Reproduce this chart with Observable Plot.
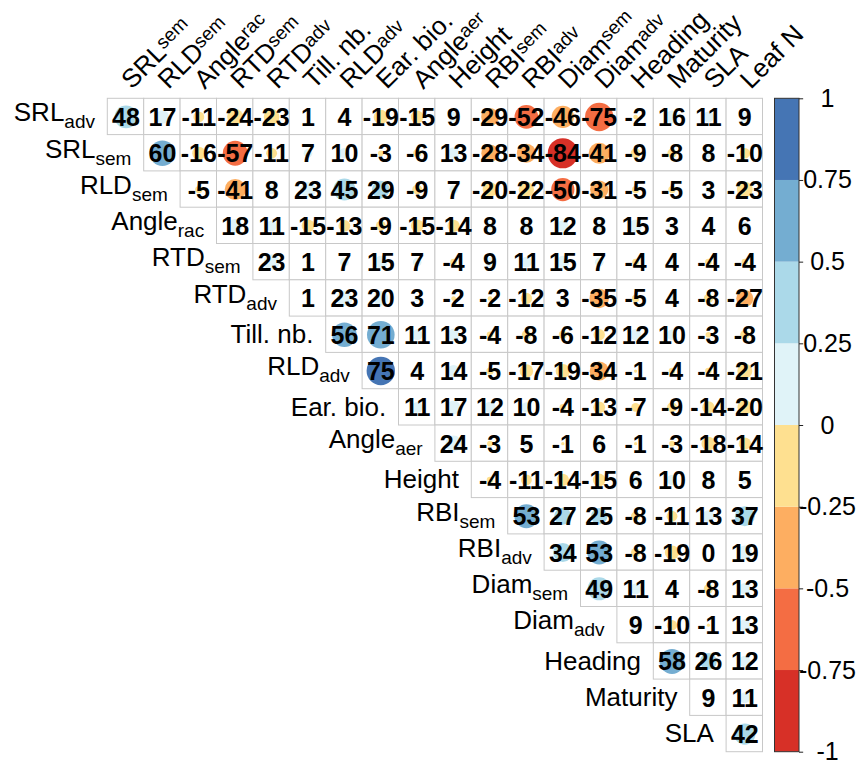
<!DOCTYPE html>
<html><head><meta charset="utf-8">
<script src="https://cdn.jsdelivr.net/npm/d3@7"></script>
<script src="https://cdn.jsdelivr.net/npm/@observablehq/plot@0.6"></script>
<style>
body{margin:0;background:#fff;}
#wrap{position:relative;width:861px;height:767px;font-family:"Liberation Sans",Arial,sans-serif;overflow:hidden;}
#wrap svg{position:absolute;top:0;overflow:visible;}
</style></head><body><div id="wrap"></div>
<script>
// Variables (underscore marks a subscript)
const variables = ["SRL_adv","SRL_sem","RLD_sem","Angle_rac","RTD_sem","RTD_adv","Till. nb.","RLD_adv","Ear. bio.","Angle_aer","Height","RBI_sem","RBI_adv","Diam_sem","Diam_adv","Heading","Maturity","SLA","Leaf N"];

// Correlations (x100), upper triangle, one array per row
const rSRLadv   = [48,17,-11,-24,-23,1,4,-19,-15,9,-29,-52,-46,-74.8,-2,16,11,9];
const rSRLsem   = [60,-16,-57,-11,7,10,-3,-6,13,-28,-34,-84,-41,-9,-8,8,-10];
const rRLDsem   = [-5,-41,8,23,45,29,-9,7,-20,-22,-50.2,-31,-5,-5,3,-23];
const rAnglerac = [18,11,-15,-13,-9,-15,-14,8,8,12,8,15,3,4,6];
const rRTDsem   = [23,1,7,15,7,-4,9,11,15,7,-4,4,-4,-4];
const rRTDadv   = [1,23,20,3,-2,-2,-12,3,-35,-5,4,-8,-27];
const rTillnb   = [56,71,11,13,-4,-8,-6,-12,12,10,-3,-8];
const rRLDadv   = [75,4,14,-5,-17,-19,-34,-1,-4,-4,-21];
const rEarbio   = [11,17,12,10,-4,-13,-7,-9,-14,-20];
const rAngleaer = [24,-3,5,-1,6,-1,-3,-18,-14];
const rHeight   = [-4,-11,-14,-15,6,10,8,5];
const rRBIsem   = [53,27,25,-8,-11,13,37];
const rRBIadv   = [34,53,-8,-19,0,19];
const rDiamsem  = [49,11,4,-8,13];
const rDiamadv  = [9,-10,-1,13];
const rHeading  = [58,26,12];
const rMaturity = [9,11];
const rSLA      = [42];

const corrRows = [rSRLadv,rSRLsem,rRLDsem,rAnglerac,rRTDsem,rRTDadv,rTillnb,rRLDadv,rEarbio,rAngleaer,rHeight,rRBIsem,rRBIadv,rDiamsem,rDiamadv,rHeading,rMaturity,rSLA];

// Colour legend
const thresholds = [-0.75,-0.5,-0.25,0,0.25,0.5,0.75];
const palette = ["#D73027","#F46D43","#FDAE61","#FEE090","#E0F3F8","#ABD9E9","#74ADD1","#4575B4"];
const legendTicks = [1,0.75,0.5,0.25,0,-0.25,-0.5,-0.75,-1];
const legendTickLabels = ["1","0.75","0.5","0.25","0","-0.25","-0.5","-0.75","-1"];

const rowVars = variables.slice(0,18);
const colVars = variables.slice(1);
const cells = [];
corrRows.forEach((vals,i)=>vals.forEach((v,j)=>cells.push({row: rowVars[i], col: colVars[i+j], v})));

const edges = [-1, ...thresholds, 1];
const bins = palette.map((c,i)=>({lo: edges[i], hi: edges[i+1]}));

const font = '"Liberation Sans", Arial, sans-serif';
const colorScale = {type:"threshold", domain: thresholds, range: palette};

const main = Plot.plot({
  width: 861, height: 767,
  x: {type:"band", domain: colVars, range:[107.3,762.5], padding:0, round:false, axis:null},
  y: {type:"band", domain: rowVars, range:[98.3,751.7], padding:0, round:false, axis:null},
  color: colorScale,
  r: {type:"sqrt", domain:[0,1], range:[0,16.4]},
  style: {fontFamily: font, background:"transparent", overflow:"visible"},
  marks: [
    Plot.cell(cells, {x:"col", y:"row", fill:"white", stroke:"#c8c8c8", strokeWidth:1, inset:0}),
    Plot.dot(cells, {x:"col", y:"row", r: d=>Math.abs(d.v)/100, fill: d=>d.v/100}),
    Plot.text(cells, {x:"col", y:"row", text: d=>String(Math.round(d.v)), fontWeight:"bold", fontSize:25, fill:"black", dy:1}),
    Plot.text(rowVars, {x:(d,i)=>colVars[i], y:d=>d, text:d=>d, textAnchor:"end", dx:-31, fontSize:26, fill:"black"}),
    Plot.text(colVars, {x:d=>d, y:()=>rowVars[0], text:d=>d, rotate:-45, textAnchor:"start", lineAnchor:"bottom", dx:6, dy:-27, fontSize:26, fill:"black"})
  ]
});

const legend = Plot.plot({
  width: 101, height: 767,
  x: {domain:[0,1], range:[14.5,39], axis:null},
  y: {domain:[-1,1], range:[751.7,98.3], axis:null},
  color: colorScale,
  style: {fontFamily: font, background:"transparent", overflow:"visible"},
  marks: [
    Plot.rect(bins, {x1:0, x2:1, y1:"lo", y2:"hi", fill:d=>(d.lo+d.hi)/2}),
    Plot.rect([0], {x1:0, x2:1, y1:-1, y2:1, fill:"none", stroke:"#333", strokeWidth:1}),
    Plot.ruleY(legendTicks, {x1:1, x2:1.17, stroke:"#222"}),
    Plot.text(legendTicks, {x:1, y:d=>d, text:(d,i)=>legendTickLabels[i], dx:28, fontSize:25, fill:"black"})
  ]
});

const ns = "http://www.w3.org/2000/svg";
function subscriptify(svg) {
  svg.querySelectorAll("text").forEach(t => {
    const s = t.textContent;
    const k = s.indexOf("_");
    if (k < 0) return;
    const rotated = (t.getAttribute("transform") || "").includes("rotate") ||
                    (t.parentNode.getAttribute("transform") || "").includes("rotate");
    const mainDy = rotated ? 0 : -4;
    const subDy = rotated ? -6 : 7;
    while (t.firstChild) t.removeChild(t.firstChild);
    const a = document.createElementNS(ns, "tspan");
    a.textContent = s.slice(0, k);
    if (mainDy) a.setAttribute("dy", mainDy);
    const b = document.createElementNS(ns, "tspan");
    b.textContent = s.slice(k + 1);
    b.setAttribute("font-size", 19);
    b.setAttribute("dy", subDy);
    t.appendChild(a);
    t.appendChild(b);
  });
}
subscriptify(main);

main.style.left = "0px";
legend.style.left = "760px";
const wrap = document.getElementById("wrap");
wrap.append(main, legend);
</script>
</body></html>
